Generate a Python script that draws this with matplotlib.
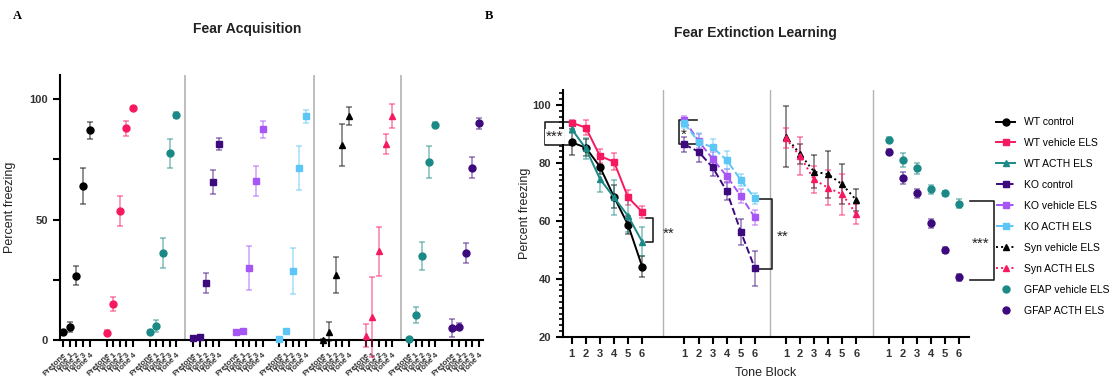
import numpy as np
import matplotlib
matplotlib.use("Agg")
from matplotlib import pyplot as plt
from matplotlib.lines import Line2D

plt.rcParams['font.family'] = ['Liberation Sans', 'DejaVu Sans']

# ---- Panel A: fear acquisition ----
acq_labels = ['Pretone', 'Tone 1', 'Tone 2', 'Tone 3', 'Tone 4']
acq_groups = ['WT control', 'WT vehicle ELS', 'WT ACTH ELS',
              'KO control', 'KO vehicle ELS', 'KO ACTH ELS',
              'Syn vehicle ELS', 'Syn ACTH ELS',
              'GFAP vehicle ELS', 'GFAP ACTH ELS']
acq_mean = [
    [3.5, 5.3, 26.7, 64.0, 87.0],
    [3.0, 15.1, 53.5, 87.8, 96.3],
    [3.5, 6.0, 36.1, 77.5, 93.3],
    [0.7, 1.4, 23.6, 65.7, 81.3],
    [3.2, 3.9, 29.9, 66.0, 87.5],
    [0.3, 3.6, 28.6, 71.3, 92.8],
    [0.0, 3.5, 27.0, 81.0, 93.0],
    [1.7, 9.7, 36.8, 81.3, 92.8],
    [0.3, 10.4, 34.7, 73.9, 89.3],
    [4.9, 5.6, 36.1, 71.5, 89.9],
]
acq_err = [
    [0.5, 2.0, 4.0, 7.5, 3.5],
    [1.0, 2.9, 6.2, 3.3, 0.5],
    [0.5, 2.5, 6.2, 6.1, 1.2],
    [0.5, 0.6, 4.2, 5.0, 2.5],
    [0.5, 0.8, 9.3, 6.2, 3.6],
    [0.3, 0.5, 9.7, 9.2, 2.6],
    [0.3, 3.8, 7.5, 8.8, 3.9],
    [4.8, 16.6, 10.3, 4.2, 5.0],
    [0.3, 3.5, 5.8, 6.6, 1.0],
    [3.8, 1.5, 4.3, 4.4, 2.2],
]

# ---- Panel B: fear extinction ----
blocks = [1, 2, 3, 4, 5, 6]
ext_mean = {
    'WT control':       [87.1, 85.3, 78.7, 68.3, 58.6, 44.2],
    'WT vehicle ELS':   [93.9, 92.2, 82.4, 80.4, 68.1, 63.1],
    'WT ACTH ELS':      [91.7, 85.0, 74.5, 68.1, 61.7, 52.8],
    'KO control':       [86.4, 83.9, 78.5, 70.3, 56.3, 43.6],
    'KO vehicle ELS':   [94.8, 87.6, 81.4, 75.5, 68.6, 61.2],
    'KO ACTH ELS':      [93.7, 87.3, 85.4, 81.0, 74.1, 67.8],
    'Syn vehicle ELS':  [89.1, 83.1, 77.0, 76.1, 72.6, 67.2],
    'Syn ACTH ELS':     [88.5, 82.4, 74.3, 71.4, 69.2, 62.4],
    'GFAP vehicle ELS': [88.1, 81.0, 78.1, 70.9, 69.5, 66.0],
    'GFAP ACTH ELS':    [83.9, 74.9, 69.5, 59.2, 49.9, 40.5],
}
ext_err = {
    'WT control':       [4.5, 3.0, 2.5, 4.0, 3.0, 3.5],
    'WT vehicle ELS':   [1.0, 2.5, 2.5, 3.0, 2.5, 2.0],
    'WT ACTH ELS':      [1.5, 3.5, 4.5, 6.0, 5.5, 5.0],
    'KO control':       [2.5, 3.5, 3.0, 3.0, 4.5, 6.0],
    'KO vehicle ELS':   [1.5, 2.5, 2.5, 2.5, 2.5, 2.5],
    'KO ACTH ELS':      [1.5, 3.0, 3.0, 3.0, 2.0, 2.0],
    'Syn vehicle ELS':  [10.6, 3.5, 5.8, 8.2, 6.9, 3.7],
    'Syn ACTH ELS':     [3.5, 6.6, 4.6, 6.0, 7.0, 3.5],
    'GFAP vehicle ELS': [0.8, 2.5, 2.0, 1.5, 0.8, 1.5],
    'GFAP ACTH ELS':    [0.8, 2.0, 1.5, 1.5, 1.0, 1.2],
}

colors = {
    'WT control': '#000000', 'WT vehicle ELS': '#F7195F', 'WT ACTH ELS': '#1B8986',
    'KO control': '#3C0A7D', 'KO vehicle ELS': '#A656F5', 'KO ACTH ELS': '#5CC6F7',
    'Syn vehicle ELS': '#000000', 'Syn ACTH ELS': '#F7195F',
    'GFAP vehicle ELS': '#1B8986', 'GFAP ACTH ELS': '#3C0A7D',
}
acq_markers = ['o', 'o', 'o', 's', 's', 's', '^', '^', 'o', 'o']
ext_markers = {
    'WT control': 'o', 'WT vehicle ELS': 's', 'WT ACTH ELS': '^',
    'KO control': 's', 'KO vehicle ELS': 's', 'KO ACTH ELS': 's',
    'Syn vehicle ELS': '^', 'Syn ACTH ELS': '^',
    'GFAP vehicle ELS': 'o', 'GFAP ACTH ELS': 'o',
}
ext_ls = {
    'WT control': '-', 'WT vehicle ELS': '-', 'WT ACTH ELS': '-',
    'KO control': '--', 'KO vehicle ELS': '--', 'KO ACTH ELS': '--',
    'Syn vehicle ELS': ':', 'Syn ACTH ELS': ':',
    'GFAP vehicle ELS': 'none', 'GFAP ACTH ELS': 'none',
}
ext_sets = [['WT control', 'WT vehicle ELS', 'WT ACTH ELS'],
            ['KO control', 'KO vehicle ELS', 'KO ACTH ELS'],
            ['Syn vehicle ELS', 'Syn ACTH ELS'],
            ['GFAP vehicle ELS', 'GFAP ACTH ELS']]

fig = plt.figure(figsize=(11.12, 3.77), dpi=100)
grid = '#B3B3B3'
ink = '#222222'
tick_font = dict(fontsize=8, fontweight='bold', color='#333333')

# ---------------- Panel A ----------------
axA = fig.add_axes([60 / 1112, 1 - 340 / 377, 423 / 1112, 265 / 377])
gstep = 6.55
acq_ticks = []
acq_ticklabels = []
for g, name in enumerate(acq_groups):
    xs = g * gstep + np.arange(5)
    acq_ticks += list(xs)
    acq_ticklabels += acq_labels
    c = colors[name]
    axA.errorbar(xs, acq_mean[g], yerr=acq_err[g], fmt=acq_markers[g], color=c,
                 ms=5, ecolor=matplotlib.colors.to_rgba(c, 0.55), elinewidth=1.1,
                 capsize=2.5, capthick=1.1, clip_on=False, zorder=3)
for i in [2, 5, 7]:
    xsep = (i * gstep + 4 + (i + 1) * gstep) / 2
    axA.axvline(xsep, color=grid, lw=1.2, zorder=1)
axA.set_xlim(-0.5, 63.6)
axA.set_ylim(0, 110)
axA.set_yticks([0, 50, 100])
axA.set_yticks([25, 75], minor=True)
axA.set_xticks(acq_ticks)
axA.set_xticklabels(acq_ticklabels, rotation=45, ha='right', rotation_mode='anchor',
                    fontsize=5.8, fontweight='bold', color='#333333')
for lab in axA.get_yticklabels():
    lab.set(**tick_font)
axA.tick_params(axis='both', which='both', width=1.5, length=5, direction='out')
axA.spines['top'].set_visible(False)
axA.spines['right'].set_visible(False)
axA.spines['left'].set_linewidth(1.5)
axA.spines['bottom'].set_linewidth(1.5)
axA.set_ylabel('Percent freezing', fontsize=9, color=ink, labelpad=10)
fig.text(247 / 1112, 1 - 29 / 377, 'Fear Acquisition', ha='center', va='center',
         fontsize=10, fontweight='bold', color=ink)
fig.text(13 / 1112, 1 - 16 / 377, 'A', ha='left', va='center', fontsize=9,
         fontweight='bold', family='Liberation Serif')

# ---------------- Panel B ----------------
axB = fig.add_axes([563 / 1112, 1 - 336.7 / 377, 406 / 1112, 246.7 / 377])
offsets = [0, 8, 15.2, 22.5]
ext_ticks = []
handles = []
for k, names in enumerate(ext_sets):
    xs = offsets[k] + np.arange(6)
    ext_ticks += list(xs)
    for name in names:
        c = colors[name]
        axB.errorbar(xs, ext_mean[name], yerr=ext_err[name], fmt=ext_markers[name],
                     ls=ext_ls[name], color=c, lw=1.4, ms=5,
                     ecolor=matplotlib.colors.to_rgba(c, 0.55), elinewidth=1.1,
                     capsize=2.5, capthick=1.1, clip_on=False, zorder=3)
        handles.append(Line2D([], [], color=c, marker=ext_markers[name], ms=5,
                              ls=ext_ls[name], lw=1.4, label=name))
for xsep in [6.5, 14.1, 21.35]:
    axB.axvline(xsep, color=grid, lw=1.0, zorder=1)
axB.set_xlim(-0.62, 28.2)
axB.set_ylim(20, 105.2)
axB.set_yticks([20, 40, 60, 80, 100])
axB.set_yticks(np.arange(22, 105, 2), minor=True)
axB.set_xticks(ext_ticks)
axB.set_xticklabels([str(b) for b in blocks] * 4)
for lab in axB.get_xticklabels() + axB.get_yticklabels():
    lab.set(**tick_font)
axB.tick_params(axis='both', which='major', width=1.5, length=5, direction='out')
axB.tick_params(axis='y', which='minor', width=1.2, length=3)
axB.spines['top'].set_visible(False)
axB.spines['right'].set_visible(False)
axB.spines['left'].set_linewidth(1.5)
axB.spines['bottom'].set_linewidth(1.5)
axB.set_ylabel('Percent freezing', fontsize=9, color=ink, labelpad=1)
axB.set_xlabel('Tone Block', fontsize=9, color=ink, labelpad=6)
fig.text(755 / 1112, 1 - 33 / 377, 'Fear Extinction Learning', ha='center', va='center',
         fontsize=10, fontweight='bold', color=ink)
fig.text(485 / 1112, 1 - 16 / 377, 'B', ha='left', va='center', fontsize=9,
         fontweight='bold', family='Liberation Serif')


# significance brackets
def bracket(ax, x0, x1, y0, y1, text, tx, ty):
    ax.plot([x0, x1, x1, x0], [y0, y0, y1, y1], color=ink, lw=1.2, clip_on=False)
    ax.text(tx, ty, text, ha='center', va='center', fontsize=11, color=ink, zorder=6)


# box bracket on the left of the WT group
axB.plot([0.0, -1.9, -1.9, 0.0], [94.2, 94.2, 86.1, 86.1], color=ink, lw=1.2,
         clip_on=False)
axB.text(-1.2, 89.2, '***', ha='center', va='center', fontsize=11, color=ink,
         zorder=6, bbox=dict(boxstyle='square,pad=0.05', fc='white', ec='none'))
bracket(axB, 5.3, 5.8, 60.9, 52.6, '**', 6.9, 55.6)
axB.plot([8.9, 7.6, 7.6, 8.9], [95.0, 95.0, 86.6, 86.6], color=ink, lw=1.2)
axB.text(7.95, 89.8, '*', ha='center', va='center', fontsize=11, color=ink, zorder=6)
bracket(axB, 13.1, 14.2, 67.6, 43.4, '**', 15.0, 54.6)
bracket(axB, 28.3, 30.0, 67.0, 39.6, '***', 29.0, 52.2)

fig.legend(handles=handles, loc='upper left', bbox_to_anchor=(992 / 1112, 1 - 113 / 377),
           frameon=False, fontsize=7.5, handlelength=1.8, labelspacing=1.05,
           handletextpad=0.9, borderaxespad=0)

fig.savefig('out.png', dpi=100)
